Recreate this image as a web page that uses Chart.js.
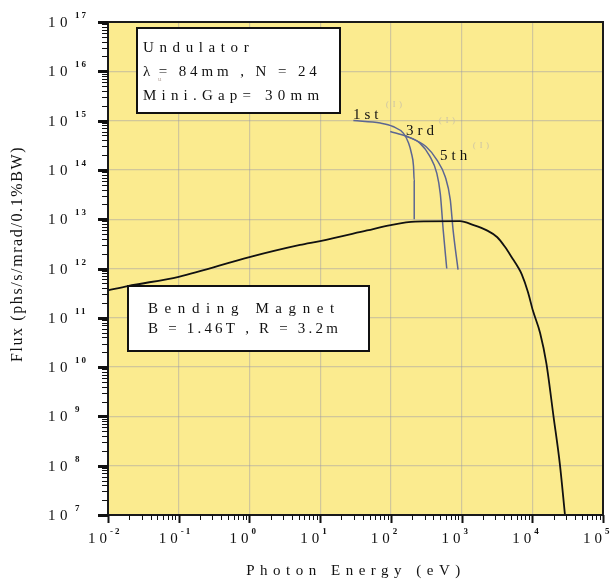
<!DOCTYPE html>
<html>
<head>
<meta charset="utf-8">
<script src="https://cdn.jsdelivr.net/npm/chart.js@4"></script>
<style>
  html, body { margin: 0; padding: 0; background: #fff; }
</style>
</head>
<body>
<canvas id="chart" width="614" height="580"></canvas>
<script>
// bending magnet spectrum (photon energy eV / flux)
const bmEnergy = [0.01, 0.019, 0.1, 1, 5.2, 10, 46, 100, 220, 950, 1480, 2240, 3200, 4100, 5400, 6200, 7100, 8700, 10200, 12900, 15800, 20000, 24500, 29000];
const bmFlux = [3.6e11, 4.4e11, 6.8e11, 1.7e12, 3.0e12, 3.6e12, 5.9e12, 7.6e12, 8.9e12, 9.1e12, 7.6e12, 6.0e12, 4.3e12, 2.75e12, 1.5e12, 1.1e12, 7.6e11, 3.3e11, 1.4e11, 4.9e10, 1.2e10, 9.8e8, 1.1e8, 1.0e7];

// undulator harmonics
const u1Energy = [29.5, 71, 107, 151, 178, 195, 209, 214, 214];
const u1Flux = [1.0e15, 8.9e14, 7.6e14, 5.5e14, 3.5e14, 2.2e14, 1.2e14, 6e13, 1.0e13];
const u3Energy = [98, 166, 257, 355, 447, 500, 550, 617];
const u3Flux = [6.0e14, 4.8e14, 3.5e14, 1.9e14, 8.5e13, 3.3e13, 6.0e12, 1.0e12];
const u5Energy = [158, 316, 447, 589, 692, 759, 891];
const u5Flux = [5.0e14, 2.95e14, 1.6e14, 7.2e13, 2.5e13, 6.0e12, 9.5e11];

const harmonicLabels = ['1st', '3rd', '5th'];
const xExponents = [-2, -1, 0, 1, 2, 3, 4, 5];
const yExponents = [7, 8, 9, 10, 11, 12, 13, 14, 15, 16, 17];

const undulatorText = ['Undulator', ' = 84mm , N = 24', 'Mini.Gap= 30mm'];
const bendingText = ['Bending Magnet', 'B = 1.46T , R = 3.2m'];

const SERIF = '"Liberation Serif", "DejaVu Serif", serif';

function pairs(xs, ys) {
  return xs.map((x, i) => ({ x: x, y: ys[i] }));
}

function spaced(ctx, text, x, y, spacing) {
  ctx.letterSpacing = spacing + 'px';
  ctx.fillText(text, x, y);
  ctx.letterSpacing = '0px';
}

const decorations = {
  id: 'decorations',
  beforeDraw(chart) {
    const { ctx, chartArea: a } = chart;
    ctx.save();
    ctx.fillStyle = '#fbeb8f';
    ctx.fillRect(a.left, a.top, a.right - a.left, a.bottom - a.top);
    ctx.restore();
  },
  afterDraw(chart) {
    const { ctx, chartArea: a } = chart;
    const xs = chart.scales.x, ys = chart.scales.y;
    ctx.save();

    // frame
    ctx.strokeStyle = '#1a1a1a';
    ctx.lineWidth = 2;
    ctx.strokeRect(a.left, a.top, a.right - a.left, a.bottom - a.top);

    // ticks
    ctx.strokeStyle = '#111';
    const first = xExponents[0], lastX = xExponents[xExponents.length - 1];
    for (let e = first; e <= lastX; e++) {
      for (let m = 1; m <= 9; m++) {
        if (e === lastX && m > 1) break;
        const px = Math.round(xs.getPixelForValue(m * Math.pow(10, e))) + 0.5;
        ctx.lineWidth = m === 1 ? 2 : 1;
        ctx.beginPath();
        ctx.moveTo(px, a.bottom);
        ctx.lineTo(px, a.bottom + (m === 1 ? 8 : 5));
        ctx.stroke();
      }
    }
    const firstY = yExponents[0], lastY = yExponents[yExponents.length - 1];
    for (let e = firstY; e <= lastY; e++) {
      for (let m = 1; m <= 9; m++) {
        if (e === lastY && m > 1) break;
        const py = Math.round(ys.getPixelForValue(m * Math.pow(10, e))) + 0.5;
        ctx.lineWidth = m === 1 ? 3 : 1;
        ctx.beginPath();
        ctx.moveTo(a.left, py);
        ctx.lineTo(a.left - (m === 1 ? 10 : 6), py);
        ctx.stroke();
      }
    }

    // tick labels
    ctx.fillStyle = '#111';
    ctx.textAlign = 'left';
    ctx.textBaseline = 'alphabetic';
    xExponents.forEach(e => {
      const px = xs.getPixelForValue(Math.pow(10, e));
      ctx.font = '15px ' + SERIF;
      spaced(ctx, '10', px - 20, a.bottom + 28, 4);
      ctx.font = 'bold 9px ' + SERIF;
      spaced(ctx, String(e), px + 2, a.bottom + 19, 2);
    });
    yExponents.forEach(e => {
      const py = ys.getPixelForValue(Math.pow(10, e));
      ctx.font = '15px ' + SERIF;
      spaced(ctx, '10', 48, py + 5, 4.5);
      ctx.font = 'bold 9px ' + SERIF;
      spaced(ctx, String(e), 75, py - 4, 2);
    });

    // axis titles
    ctx.font = '15px ' + SERIF;
    ctx.textAlign = 'center';
    spaced(ctx, 'Photon Energy (eV)', 356, 575, 5.5);
    ctx.save();
    ctx.translate(22, 254);
    ctx.rotate(-Math.PI / 2);
    ctx.font = '16px ' + SERIF;
    spaced(ctx, 'Flux (phs/s/mrad/0.1%BW)', 0, 0, 1.6);
    ctx.restore();

    // undulator box
    ctx.fillStyle = '#fff';
    ctx.fillRect(137, 28, 203, 85);
    ctx.strokeStyle = '#111';
    ctx.lineWidth = 2;
    ctx.strokeRect(137, 28, 203, 85);
    ctx.fillStyle = '#111';
    ctx.textAlign = 'left';
    ctx.font = '15px ' + SERIF;
    spaced(ctx, undulatorText[0], 143, 52, 5.6);
    spaced(ctx, '\u03bb', 143, 76, 0);
    spaced(ctx, undulatorText[1], 151, 76, 3.9);
    spaced(ctx, undulatorText[2], 143, 100, 5.2);
    ctx.fillStyle = '#b8a8a0';
    ctx.font = '7px ' + SERIF;
    ctx.fillText('u', 158, 81);

    // bending magnet box
    ctx.fillStyle = '#fff';
    ctx.fillRect(128, 286, 241, 65);
    ctx.strokeStyle = '#111';
    ctx.strokeRect(128, 286, 241, 65);
    ctx.fillStyle = '#111';
    ctx.font = '15px ' + SERIF;
    spaced(ctx, bendingText[0], 148, 313, 6.6);
    spaced(ctx, bendingText[1], 148, 333, 3.2);

    // harmonic labels
    const labelPos = [[353, 119], [406, 135], [440, 160]];
    harmonicLabels.forEach((t, i) => {
      ctx.fillStyle = '#111';
      ctx.font = '15px ' + SERIF;
      spaced(ctx, t, labelPos[i][0], labelPos[i][1], 4);
      ctx.fillStyle = '#c8c0a8';
      ctx.font = '8px ' + SERIF;
      spaced(ctx, '( I )', labelPos[i][0] + 33, labelPos[i][1] - 12, 1);
    });
    ctx.restore();
  }
};

const harmonicColor = '#5c6692';

new Chart(document.getElementById('chart'), {
  type: 'scatter',
  data: {
    datasets: [
      { label: 'Bending Magnet', data: pairs(bmEnergy, bmFlux), borderColor: '#111', borderWidth: 1.8 },
      { label: '1st', data: pairs(u1Energy, u1Flux), borderColor: harmonicColor, borderWidth: 1.5 },
      { label: '3rd', data: pairs(u3Energy, u3Flux), borderColor: harmonicColor, borderWidth: 1.5 },
      { label: '5th', data: pairs(u5Energy, u5Flux), borderColor: harmonicColor, borderWidth: 1.5 }
    ]
  },
  options: {
    responsive: false,
    animation: false,
    showLine: true,
    elements: { point: { radius: 0 }, line: { tension: 0.25, cubicInterpolationMode: 'monotone' } },
    layout: { padding: { left: 108, right: 11, top: 22, bottom: 65 } },
    plugins: { legend: { display: false }, tooltip: { enabled: false } },
    scales: {
      x: {
        type: 'logarithmic',
        min: 0.01, max: 1e5,
        afterBuildTicks: s => { s.ticks = xExponents.map(e => ({ value: Math.pow(10, e) })); },
        afterFit: s => { s.height = 0; },
        ticks: { display: false },
        grid: { color: 'rgba(150,150,170,0.42)', lineWidth: 1.2, drawTicks: false },
        border: { display: false }
      },
      y: {
        type: 'logarithmic',
        min: 1e7, max: 1e17,
        afterBuildTicks: s => { s.ticks = yExponents.map(e => ({ value: Math.pow(10, e) })); },
        afterFit: s => { s.width = 0; },
        ticks: { display: false },
        grid: { color: 'rgba(150,150,170,0.42)', lineWidth: 1.2, drawTicks: false },
        border: { display: false }
      }
    }
  },
  plugins: [decorations]
});
</script>
</body>
</html>
